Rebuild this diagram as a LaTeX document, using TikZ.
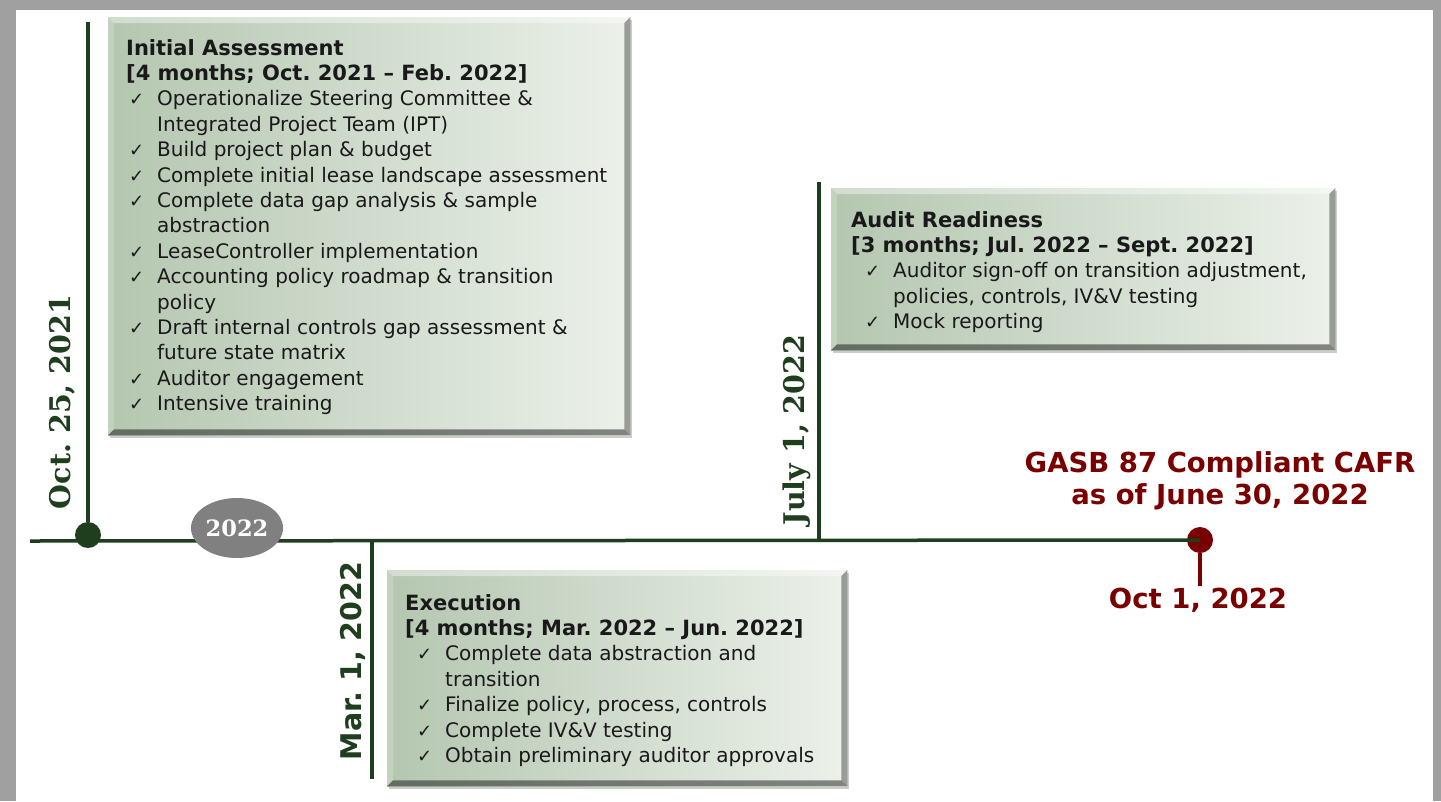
\documentclass[tikz,border=0pt]{standalone}
\usepackage{fontspec}
\setmainfont{DejaVu Sans}
\newfontfamily\dateserif{DejaVu Serif}
\usetikzlibrary{shapes.geometric,shadows}
\frenchspacing

\definecolor{tlgreen}{RGB}{30,62,30}
\definecolor{tlred}{RGB}{122,0,0}
\definecolor{boxleft}{RGB}{180,198,176}
\definecolor{boxright}{RGB}{236,241,234}
\definecolor{framegray}{RGB}{160,160,160}
\definecolor{yeargray}{RGB}{128,128,128}
\definecolor{boxtext}{RGB}{25,25,25}

% box titles, check mark items and their continuation lines
\newlength{\tickin}
\newcommand{\ttl}[1]{{\bfseries\fontsize{21}{25.4}\selectfont #1}}
\newcommand{\ck}{\hspace*{\tickin}\makebox[28pt][l]{\fontsize{18}{18}\selectfont ✓}}
\newcommand{\nock}{\hspace*{\tickin}\hspace*{28pt}}

% raised edge on a phase box
\newcommand{\bevel}[1]{%
  \fill[white, opacity=.4] (#1.north west) -- (#1.north east) -- ([shift={(-6,6)}]#1.north east) -- ([shift={(6,6)}]#1.north west) -- cycle;
  \fill[white, opacity=.2] (#1.north west) -- ([shift={(6,6)}]#1.north west) -- ([shift={(6,-6)}]#1.south west) -- (#1.south west) -- cycle;
  \fill[black, opacity=.45] (#1.south west) -- ([shift={(6,-6)}]#1.south west) -- ([shift={(-6,-6)}]#1.south east) -- (#1.south east) -- cycle;
  \fill[black, opacity=.35] (#1.south east) -- ([shift={(-6,-6)}]#1.south east) -- ([shift={(-6,6)}]#1.north east) -- (#1.north east) -- cycle;
}

\tikzset{
  phase/.style={anchor=north west, inner sep=0pt, left color=boxleft, right color=boxright,
    drop shadow={shadow xshift=2pt, shadow yshift=-3pt, opacity=.4}},
  phasetext/.style={anchor=north west, align=left, inner sep=0pt, text=boxtext,
    font={\fontsize{20}{25.4}\selectfont}, execute at begin node={\setlength{\tickin}{#1}}},
  tline/.style={line width=3.5pt, draw=tlgreen},
  dot/.style={circle, inner sep=0pt, minimum size=26pt},
  datelabel/.style={rotate=90, text=tlgreen, font={\dateserif\bfseries\fontsize{28.5}{30}\selectfont}},
  goal/.style={text=tlred, align=center, font={\bfseries\fontsize{27.5}{32}\selectfont}},
}

\begin{document}
\begin{tikzpicture}[x=1pt, y=-1pt]

% --- Frame ---
\fill[framegray] (0,0) rectangle (1441,801);
\fill[white] (16,10) rectangle (1433,801);
\useasboundingbox (0,0) rectangle (1441,801);

% --- Phase boxes ---
\node[phase, minimum width=522, minimum height=418] (assess) at (108,17) {};
\bevel{assess}
\node[phasetext=3pt] (assesstxt) at (126,39) {%
  \ttl{Initial Assessment}\\
  \ttl{[4 months; Oct. 2021 – Feb. 2022]}\\
  \ck Operationalize Steering Committee \&\\
  \nock Integrated Project Team (IPT)\\
  \ck Build project plan \& budget\\
  \ck Complete initial lease landscape assessment\\
  \ck Complete data gap analysis \& sample\\
  \nock abstraction\\
  \ck LeaseController implementation\\
  \ck Accounting policy roadmap \& transition\\
  \nock policy\\
  \ck Draft internal controls gap assessment \&\\
  \nock future state matrix\\
  \ck Auditor engagement\\
  \ck Intensive training};

\node[phase, minimum width=504, minimum height=162] (audit) at (831,188) {};
\bevel{audit}
\node[phasetext=14pt] (audittxt) at (851,211) {%
  \ttl{Audit Readiness}\\
  \ttl{[3 months; Jul. 2022 – Sept. 2022]}\\
  \ck Auditor sign-off on transition adjustment,\\
  \nock policies, controls, IV\&V testing\\
  \ck Mock reporting};

\node[phase, minimum width=460, minimum height=216] (execute) at (387,570) {};
\bevel{execute}
\node[phasetext=12pt] (executetxt) at (405,594) {%
  \ttl{Execution}\\
  \ttl{[4 months; Mar. 2022 – Jun. 2022]}\\
  \ck Complete data abstraction and\\
  \nock transition\\
  \ck Finalize policy, process, controls\\
  \ck Complete IV\&V testing\\
  \ck Obtain preliminary auditor approvals};

% --- Timeline ---
\coordinate (tlstart) at (30,541);
\node[dot, fill=tlgreen] (kickoff) at (88,535) {};
\node[dot, fill=tlred] (finish) at (1200,540) {};
\draw[tline] (tlstart) -- (finish.center);

% milestone ticks
\coordinate (kicktop) at (88,22);
\draw[tline] (kicktop) -- (kickoff);
\coordinate (martop) at (372,541);
\coordinate (marend) at (372,779);
\draw[tline] (martop) -- (marend);
\coordinate (jultop) at (819,182);
\coordinate (julend) at (819,541);
\draw[tline] (jultop) -- (julend);
\coordinate (finstem) at (1200,586);
\draw[tline, draw=tlred] (finish) -- (finstem);

% year marker
\node[ellipse, fill=yeargray, minimum width=92, minimum height=60, inner sep=0pt,
  text=white, font={\dateserif\bfseries\fontsize{22.5}{24}\selectfont}] (year) at (237,528) {2022};

% --- Dates ---
\node[datelabel] (kickdate) at (62,402) {Oct. 25, 2021};
\node[datelabel] (juldate) at (797,430) {July 1, 2022};
\node[rotate=90, text=tlgreen, font={\bfseries\fontsize{28.5}{30}\selectfont}] (mardate) at (353,661) {Mar. 1, 2022};

% --- Goal ---
\node[goal] (goaltxt) at (1220,481) {GASB 87 Compliant CAFR\\as of June 30, 2022};
\node[goal] (findate) at (1198,600) {Oct 1, 2022};

\end{tikzpicture}
\end{document}
